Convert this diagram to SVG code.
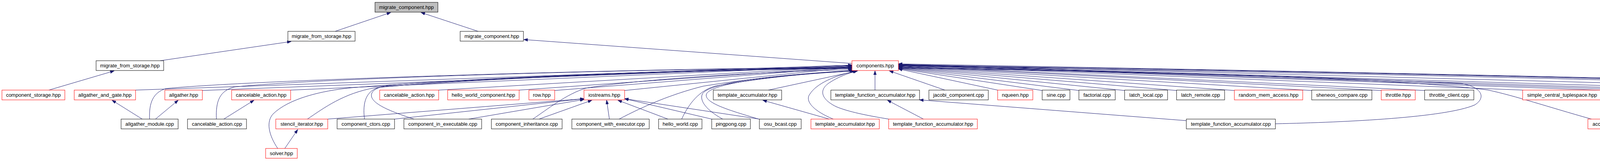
<svg xmlns="http://www.w3.org/2000/svg" width="5177" height="411" viewBox="0 0 5177 411">
<style>
.n rect{fill:#fff;stroke:#000;stroke-width:1}
.n.r rect{stroke:#ff0000}
.n.g rect{fill:#bfbfbf}
.n text{font-family:"Liberation Sans",Arial,sans-serif;font-size:13px;text-anchor:middle;fill:#000}
#edges path{fill:none;stroke:#191970;stroke-width:1;marker-end:url(#a)}
</style>
<defs>
<marker id="a" markerWidth="11" markerHeight="8" refX="10" refY="4" orient="auto" markerUnits="userSpaceOnUse">
<path d="M0,0.5 L10,4 L0,7.5 z" fill="#191970" stroke="#191970" stroke-width="1"/>
</marker>
</defs>
<rect width="5177" height="411" fill="#fff"/>
<g id="edges">
<path d="M858,80 L1000,32"/>
<path d="M1224,80 L1078,32"/>
<path d="M410,155 L745,106"/>
<path d="M2181,162 L1341,101"/>
<path d="M125,230 L292,181"/>
<path d="M364,304 L287,256"/>
<path d="M398,304 L456,256"/>
<path d="M573,304 L650,256"/>
<path d="M729,379 L762,331"/>
<path d="M2123,304 L1953,256"/>
<path d="M2364,304 L2272,256"/>
<path d="M3037,308 L2354,255"/>
<path d="M2240,230 L2240,181"/>
<path d="M2419,230 L2277,181"/>
<path d="M4170,304 L4360,256"/>
<path d="M4583,304 L4576,256"/>
<path d="M4875,304 L4909,256"/>
<path d="M5052,304 L4947,256"/>
<path d="M4934,379 L5045,331"/>
<path d="M839,304 L1495,252"/>
<path d="M1010,304 L1495,252"/>
<path d="M1200,304 L1495,254"/>
<path d="M1380,304 L1515,256"/>
<path d="M1560,304 L1553,256"/>
<path d="M1710,304 L1582,256"/>
<path d="M1822,304 L1599,252"/>
<path d="M1944,304 L1599,252"/>
<path d="M347,230 L2181,166"/>
<path d="M518,231 L2181,167"/>
<path d="M744,230 L2181,168"/>
<path d="M1123,230 L2181,169"/>
<path d="M1329,230 L2181,170"/>
<path d="M1420,231 L2181,171"/>
<path d="M1599,231 L2181,172"/>
<path d="M1967,230 L2195,181"/>
<path d="M383,304 C381,262 392,236 425,226 C700,200 1800,172 2181,172"/>
<path d="M554,304 C552,258 562,232 600,222 C850,196 1800,173 2181,173"/>
<path d="M787,304 C830,275 880,238 960,224 C1300,192 1900,174 2181,174"/>
<path d="M711,379 C688,345 680,310 700,290 C740,252 820,232 900,224 C1300,192 1900,174 2181,174"/>
<path d="M933,304 C928,262 936,230 975,222 C1300,196 1900,175 2181,175"/>
<path d="M1060,304 C1000,285 955,266 951,246 C948,226 980,219 1010,216 C1300,196 1900,175 2181,175"/>
<path d="M1364,304 C1400,280 1450,240 1500,225 C1620,204 1950,182 2183,178"/>
<path d="M1585,304 C1650,270 1720,240 1800,220 C1950,196 2100,184 2185,180"/>
<path d="M1745,304 C1765,262 1790,232 1830,220 C1950,198 2100,184 2188,181"/>
<path d="M1850,304 C1810,282 1790,258 1798,240 C1812,214 1950,192 2190,181"/>
<path d="M1942,304 C1880,285 1805,265 1808,242 C1812,216 1950,194 2191,181"/>
<path d="M2133,304 C2080,282 2062,258 2072,242 C2090,212 2140,192 2193,181"/>
<path d="M2275,304 C2220,295 2170,285 2140,272 C2100,252 2096,228 2125,210 C2145,197 2170,187 2195,181"/>
<path d="M2554,230 L2300,176"/>
<path d="M2668,231 L2300,175"/>
<path d="M2762,231 L2300,174"/>
<path d="M2879,231 L2300,173"/>
<path d="M3012,231 L2300,172"/>
<path d="M3160,231 L2300,171"/>
<path d="M3358,231 L2300,170"/>
<path d="M3536,231 L2300,169"/>
<path d="M3647,231 L2300,168"/>
<path d="M3898,230 L2300,167"/>
<path d="M4124,231 L2300,166"/>
<path d="M4239,231 L2300,166"/>
<path d="M4354,231 L2300,165"/>
<path d="M4497,230 L2300,165"/>
<path d="M4824,230 L2300,164"/>
<path d="M3265,316 C3450,312 3700,300 3775,268 C3805,250 3795,222 3740,213 C3300,192 2700,178 2300,172"/>
<path d="M4074,304 C3960,272 3880,245 3810,230 C3600,200 2900,182 2300,174"/>
<path d="M4607,304 C4660,272 4692,242 4660,228 C4500,205 3000,180 2300,168"/>
<path d="M4856,304 C4820,270 4785,240 4737,224 C4500,200 3000,178 2300,165"/>
<path d="M5074,304 C5058,262 5040,234 5018,228 C4800,210 3500,185 2300,163"/>
<path d="M4864,379 C4800,360 4760,342 4748,315 C4732,275 4715,238 4665,224 C4400,200 3000,178 2300,166"/>
</g>
<g id="n0" class="n g"><rect x="960" y="6" width="161" height="25"/><text x="1040.5" y="23">migrate_component.hpp</text></g>
<g id="n1" class="n"><rect x="737" y="80" width="172" height="25"/><text x="823" y="97">migrate_from_storage.hpp</text></g>
<g id="n2" class="n"><rect x="1178" y="80" width="162" height="25"/><text x="1259" y="97">migrate_component.hpp</text></g>
<g id="n3" class="n"><rect x="246" y="155" width="173" height="25"/><text x="332.5" y="172">migrate_from_storage.hpp</text></g>
<g id="n4" class="n r"><rect x="2181" y="155" width="119" height="25"/><text x="2240.5" y="172">components.hpp</text></g>
<g id="n5" class="n r"><rect x="5" y="230" width="161" height="25"/><text x="85.5" y="247">component_storage.hpp</text></g>
<g id="n6" class="n r"><rect x="190" y="230" width="157" height="25"/><text x="268.5" y="247">allgather_and_gate.hpp</text></g>
<g id="n7" class="n r"><rect x="422" y="230" width="96" height="25"/><text x="470" y="247">allgather.hpp</text></g>
<g id="n8" class="n r"><rect x="593" y="230" width="151" height="25"/><text x="668.5" y="247">cancelable_action.hpp</text></g>
<g id="n9" class="n r"><rect x="972" y="230" width="151" height="25"/><text x="1047.5" y="247">cancelable_action.hpp</text></g>
<g id="n10" class="n r"><rect x="1146" y="230" width="183" height="25"/><text x="1237.5" y="247">hello_world_component.hpp</text></g>
<g id="n11" class="n r"><rect x="1354" y="230" width="66" height="25"/><text x="1387" y="247">row.hpp</text></g>
<g id="n12" class="n r"><rect x="1495" y="230" width="104" height="25"/><text x="1547" y="247">iostreams.hpp</text></g>
<g id="n13" class="n"><rect x="1826" y="230" width="175" height="25"/><text x="1913.5" y="247">template_accumulator.hpp</text></g>
<g id="n14" class="n"><rect x="2127" y="230" width="227" height="25"/><text x="2240.5" y="247">template_function_accumulator.hpp</text></g>
<g id="n15" class="n"><rect x="2378" y="230" width="152" height="25"/><text x="2454" y="247">jacobi_component.cpp</text></g>
<g id="n16" class="n r"><rect x="2554" y="230" width="90" height="25"/><text x="2599" y="247">nqueen.hpp</text></g>
<g id="n17" class="n"><rect x="2668" y="230" width="71" height="25"/><text x="2703.5" y="247">sine.cpp</text></g>
<g id="n18" class="n"><rect x="2762" y="230" width="93" height="25"/><text x="2808.5" y="247">factorial.cpp</text></g>
<g id="n19" class="n"><rect x="2879" y="230" width="110" height="25"/><text x="2934" y="247">latch_local.cpp</text></g>
<g id="n20" class="n"><rect x="3012" y="230" width="123" height="25"/><text x="3073.5" y="247">latch_remote.cpp</text></g>
<g id="n21" class="n r"><rect x="3160" y="230" width="175" height="25"/><text x="3247.5" y="247">random_mem_access.hpp</text></g>
<g id="n22" class="n"><rect x="3358" y="230" width="154" height="25"/><text x="3435" y="247">sheneos_compare.cpp</text></g>
<g id="n23" class="n r"><rect x="3536" y="230" width="87" height="25"/><text x="3579.5" y="247">throttle.hpp</text></g>
<g id="n24" class="n"><rect x="3647" y="230" width="126" height="25"/><text x="3710" y="247">throttle_client.cpp</text></g>
<g id="n25" class="n r"><rect x="3898" y="230" width="202" height="25"/><text x="3999" y="247">simple_central_tuplespace.hpp</text></g>
<g id="n26" class="n r"><rect x="4124" y="230" width="91" height="25"/><text x="4169.5" y="247">runtime.hpp</text></g>
<g id="n27" class="n r"><rect x="4239" y="230" width="91" height="25"/><text x="4284.5" y="247">valarray.hpp</text></g>
<g id="n28" class="n r"><rect x="4354" y="230" width="119" height="25"/><text x="4413.5" y="247">accumulator.hpp</text></g>
<g id="n29" class="n"><rect x="4497" y="230" width="151" height="25"/><text x="4572.5" y="247">tuples_warehouse.hpp</text></g>
<g id="n30" class="n"><rect x="4824" y="230" width="187" height="25"/><text x="4917.5" y="247">action_move_semantics.hpp</text></g>
<g id="n31" class="n"><rect x="310" y="304" width="146" height="25"/><text x="383" y="321">allgather_module.cpp</text></g>
<g id="n32" class="n"><rect x="480" y="304" width="151" height="25"/><text x="555.5" y="321">cancelable_action.cpp</text></g>
<g id="n33" class="n r"><rect x="706" y="304" width="133" height="25"/><text x="772.5" y="321">stencil_iterator.hpp</text></g>
<g id="n34" class="n"><rect x="863" y="304" width="147" height="25"/><text x="936.5" y="321">component_ctors.cpp</text></g>
<g id="n35" class="n"><rect x="1034" y="304" width="199" height="25"/><text x="1133.5" y="321">component_in_executable.cpp</text></g>
<g id="n36" class="n"><rect x="1258" y="304" width="181" height="25"/><text x="1348.5" y="321">component_inheritance.cpp</text></g>
<g id="n37" class="n"><rect x="1464" y="304" width="198" height="25"/><text x="1563" y="321">component_with_executor.cpp</text></g>
<g id="n38" class="n"><rect x="1686" y="304" width="111" height="25"/><text x="1741.5" y="321">hello_world.cpp</text></g>
<g id="n39" class="n"><rect x="1822" y="304" width="99" height="25"/><text x="1871.5" y="321">pingpong.cpp</text></g>
<g id="n40" class="n"><rect x="1944" y="304" width="107" height="25"/><text x="1997.5" y="321">osu_bcast.cpp</text></g>
<g id="n41" class="n r"><rect x="2076" y="304" width="175" height="25"/><text x="2163.5" y="321">template_accumulator.hpp</text></g>
<g id="n42" class="n r"><rect x="2275" y="304" width="227" height="25"/><text x="2388.5" y="321">template_function_accumulator.hpp</text></g>
<g id="n43" class="n"><rect x="3037" y="304" width="228" height="25"/><text x="3151" y="321">template_function_accumulator.cpp</text></g>
<g id="n44" class="n r"><rect x="4065" y="304" width="119" height="25"/><text x="4124.5" y="321">accumulator.hpp</text></g>
<g id="n45" class="n r"><rect x="4484" y="304" width="201" height="25"/><text x="4584.5" y="321">simple_central_tuplespace.hpp</text></g>
<g id="n46" class="n"><rect x="4773" y="304" width="188" height="25"/><text x="4867" y="321">action_move_semantics.cpp</text></g>
<g id="n47" class="n"><rect x="4984" y="304" width="187" height="25"/><text x="5077.5" y="321">action_move_semantics.hpp</text></g>
<g id="n48" class="n r"><rect x="680" y="379" width="81" height="25"/><text x="720.5" y="396">solver.hpp</text></g>
<g id="n49" class="n r"><rect x="4814" y="379" width="187" height="25"/><text x="4907.5" y="396">action_move_semantics.hpp</text></g>
</svg>
